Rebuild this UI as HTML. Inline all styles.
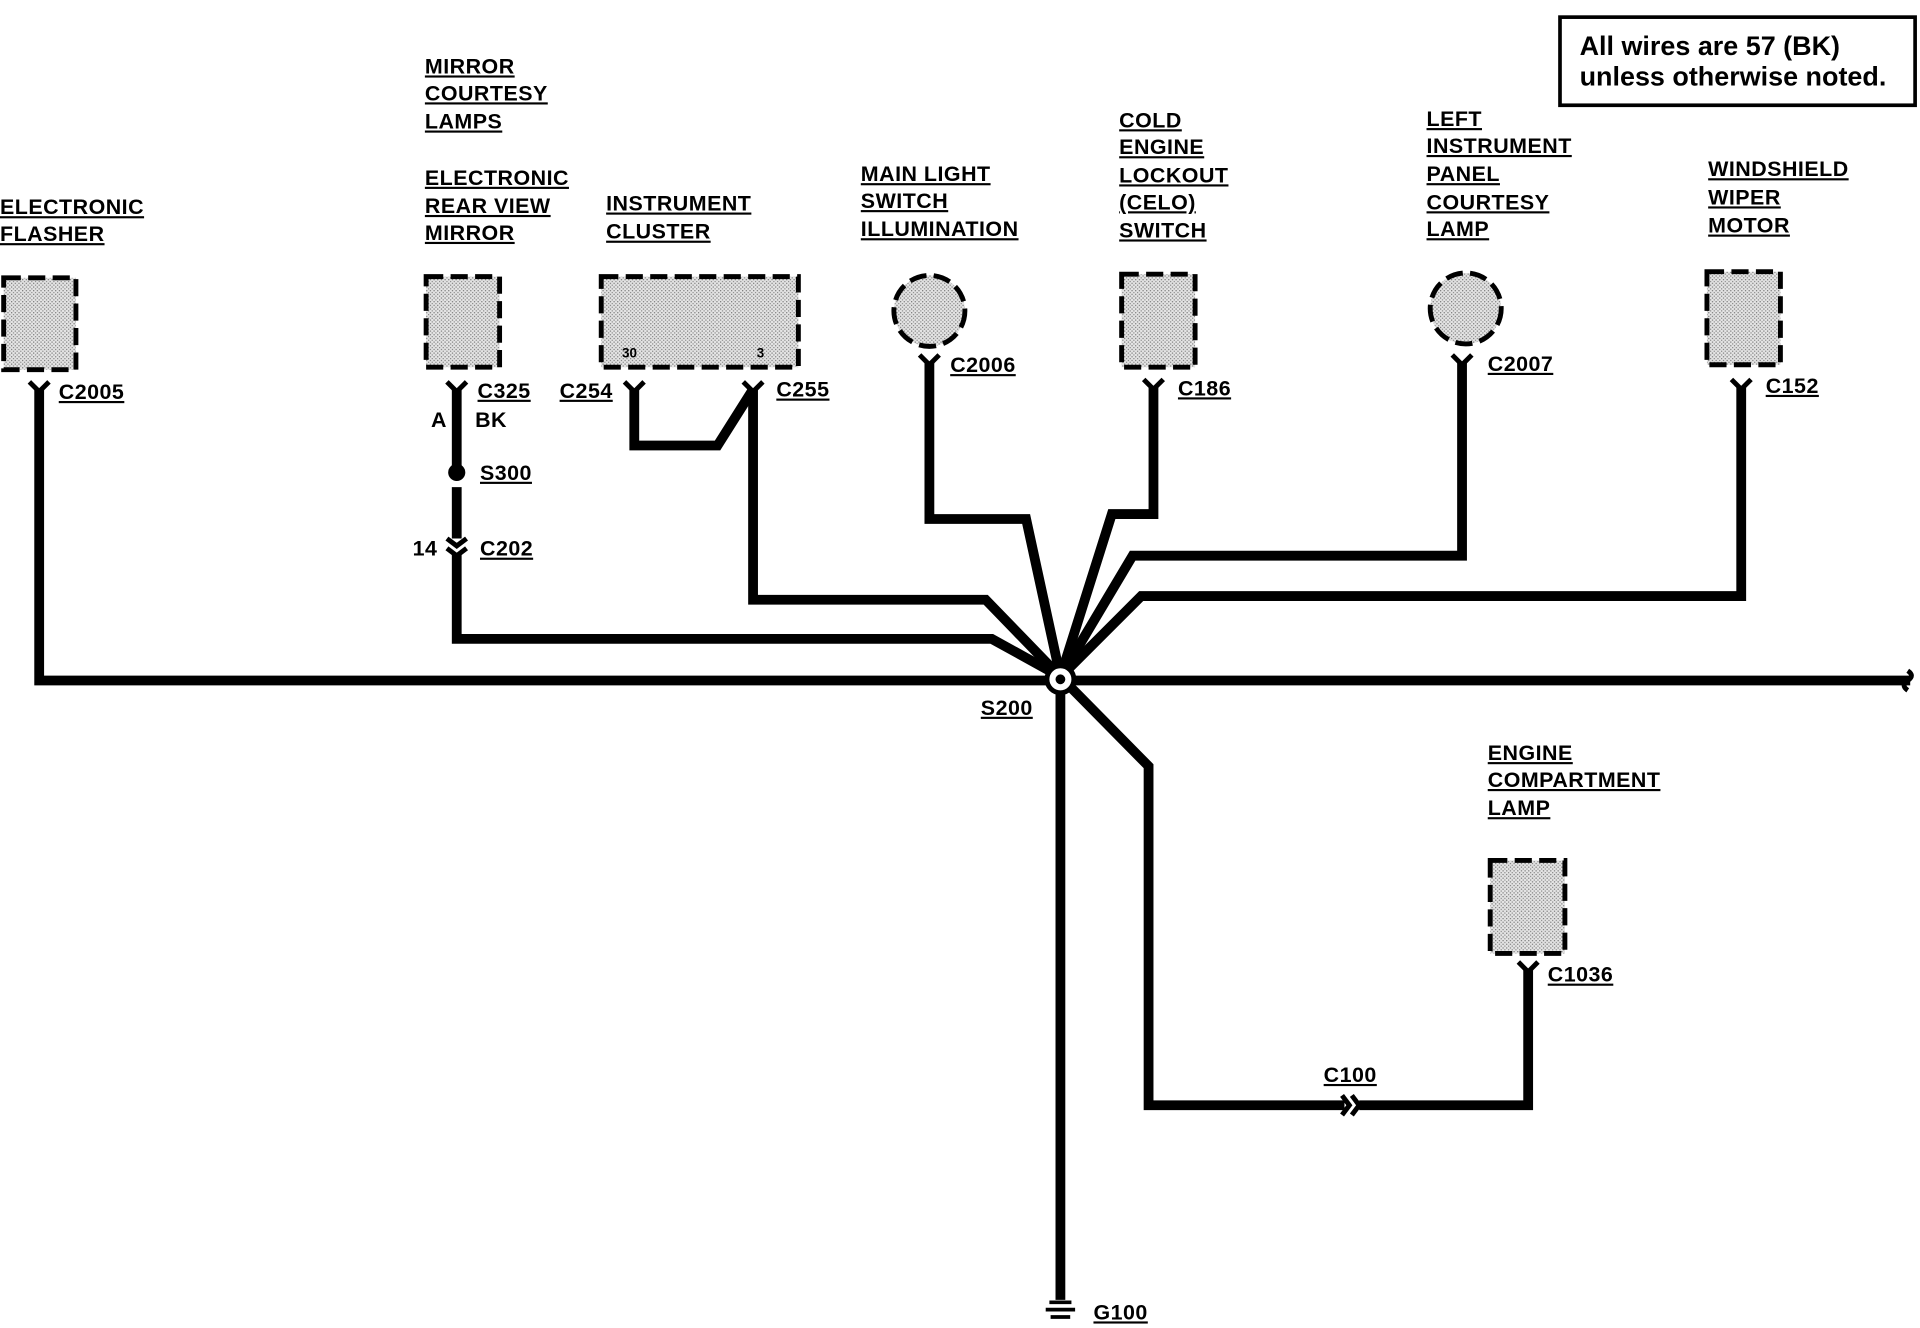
<!DOCTYPE html>
<html><head><meta charset="utf-8"><style>
html,body{margin:0;padding:0;background:#fff;}
svg{display:block;}
text{font-family:"Liberation Sans",Arial,sans-serif;font-weight:bold;font-size:17.5px;letter-spacing:0.4px;fill:#000;}
</style></head><body>
<svg width="1920" height="1328" viewBox="0 0 1568 1085" preserveAspectRatio="none" xmlns="http://www.w3.org/2000/svg">
<defs>
<pattern id="st" width="3" height="3" patternUnits="userSpaceOnUse"><rect width="3" height="3" fill="#e4e4e4"/><rect width="1" height="1" fill="#777"/><rect x="1.5" y="1.5" width="1" height="1" fill="#888"/></pattern>
</defs>
<rect x="1274" y="14" width="290" height="72" fill="#fff" stroke="#000" stroke-width="3"/>
<text x="1290" y="45" style="font-size:22px;letter-spacing:0">All wires are 57 (BK)</text>
<text x="1290" y="70" style="font-size:22px;letter-spacing:0">unless otherwise noted.</text>

<g fill="url(#st)" stroke="#000" stroke-width="4" stroke-dasharray="14,6">
<rect x="3" y="227" width="59" height="75"/>
<rect x="348" y="226" width="60" height="74"/>
<rect x="491" y="226" width="161" height="74"/>
<circle cx="759" cy="254" r="29"/>
<rect x="916" y="224" width="60" height="76"/>
<circle cx="1197" cy="252" r="29"/>
<rect x="1394" y="222" width="60" height="76"/>
<rect x="1217" y="703" width="61" height="76"/>
</g>
<text x="508" y="292" style="font-size:11px;letter-spacing:0">30</text>
<text x="618" y="292" style="font-size:11px;letter-spacing:0">3</text>

<g fill="none" stroke="#fff" stroke-width="1"></g>
<g fill="none" stroke="#000" stroke-width="8" stroke-linejoin="miter">
<polyline points="32,318 32,556 1560,556"/>
<polyline points="373,318 373,382"/>
<polyline points="373,398 373,440"/>
<polyline points="373,452 373,522 810,522 866,553"/>
<polyline points="518,318 518,364 586,364 615,318"/>
<polyline points="615,318 615,490 805,490 866,553"/>
<polyline points="759,296 759,424 838,424 866,553"/>
<polyline points="942,316 942,420 908,420 866,553"/>
<polyline points="1194,296 1194,454 925,454 866,553"/>
<polyline points="1422,316 1422,487 932,487 866,553"/>
<polyline points="866,553 866,1062"/>
<polyline points="866,553 938,626 938,903 1098,903"/>
<polyline points="1110,903 1248,903 1248,792"/>
</g>
<g fill="none" stroke="#000" stroke-width="4">
<path d="M24,312 L32,320 L40,312"/>
<path d="M365,312 L373,320 L381,312"/>
<path d="M510,312 L518,320 L526,312"/>
<path d="M607,312 L615,320 L623,312"/>
<path d="M751,290 L759,298 L767,290"/>
<path d="M934,310 L942,318 L950,310"/>
<path d="M1186,290 L1194,298 L1202,290"/>
<path d="M1414,310 L1422,318 L1430,310"/>
<path d="M1240,786 L1248,794 L1256,786"/>
<path d="M365,440 L373,446 L381,440 M365,448 L373,454 L381,448"/>
<path d="M1096,895 L1102,903 L1096,911 M1104,895 L1110,903 L1104,911"/>
<path d="M1558,548 q6,4 0,8 q-6,4 0,8"/>
</g>
<circle cx="373" cy="386" r="7" fill="#000"/>
<circle cx="866" cy="555" r="11" fill="#fff" stroke="#000" stroke-width="4"/>
<circle cx="866" cy="555" r="4" fill="#000"/>
<g stroke="#000" stroke-width="3">
<line x1="857" y1="1064" x2="875" y2="1064"/>
<line x1="854" y1="1070" x2="878" y2="1070"/>
<line x1="858" y1="1076" x2="874" y2="1076"/>
</g>

<g text-decoration="underline">
<text x="0" y="175">ELECTRONIC</text><text x="0" y="197">FLASHER</text>
<text x="347" y="60">MIRROR</text><text x="347" y="82">COURTESY</text><text x="347" y="105">LAMPS</text>
<text x="347" y="151">ELECTRONIC</text><text x="347" y="174">REAR VIEW</text><text x="347" y="196">MIRROR</text>
<text x="495" y="172">INSTRUMENT</text><text x="495" y="195">CLUSTER</text>
<text x="703" y="148">MAIN LIGHT</text><text x="703" y="170">SWITCH</text><text x="703" y="193">ILLUMINATION</text>
<text x="914" y="104">COLD</text><text x="914" y="126">ENGINE</text><text x="914" y="149">LOCKOUT</text><text x="914" y="171">(CELO)</text><text x="914" y="194">SWITCH</text>
<text x="1165" y="103">LEFT</text><text x="1165" y="125">INSTRUMENT</text><text x="1165" y="148">PANEL</text><text x="1165" y="171">COURTESY</text><text x="1165" y="193">LAMP</text>
<text x="1395" y="144">WINDSHIELD</text><text x="1395" y="167">WIPER</text><text x="1395" y="190">MOTOR</text>
<text x="1215" y="621">ENGINE</text><text x="1215" y="643">COMPARTMENT</text><text x="1215" y="666">LAMP</text>
<text x="48" y="326">C2005</text><text x="390" y="325">C325</text><text x="392" y="392">S300</text>
<text x="392" y="454">C202</text><text x="457" y="325">C254</text><text x="634" y="324">C255</text>
<text x="776" y="304">C2006</text><text x="962" y="323">C186</text><text x="1215" y="303">C2007</text>
<text x="1442" y="321">C152</text><text x="801" y="584">S200</text><text x="1264" y="802">C1036</text>
<text x="1081" y="884">C100</text><text x="893" y="1078">G100</text>
</g>
<text x="352" y="349">A</text><text x="388" y="349">BK</text><text x="337" y="454">14</text>
</svg>
</body></html>
